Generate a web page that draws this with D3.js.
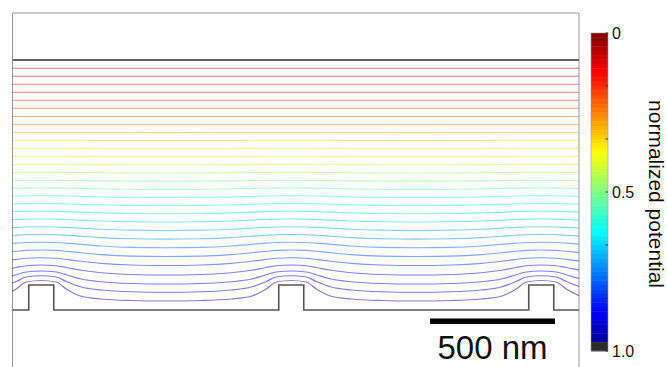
<!DOCTYPE html>
<html>
<head>
<meta charset="utf-8">
<script src="https://cdn.jsdelivr.net/npm/d3@7"></script>
<style>
  html, body { margin: 0; padding: 0; background: #fff; }
  svg { display: block; font-family: "Liberation Sans", Arial, Helvetica, sans-serif; }
</style>
</head>
<body>
<div class="chart"></div>
<script>
const width = 667;
const height = 367;

// normalized potential of each contour (0 = flat top electrode, 1 = structured electrode)
const levels = [0.033, 0.067, 0.100, 0.133, 0.167, 0.200, 0.233, 0.267, 0.300, 0.333,
                0.367, 0.400, 0.433, 0.467, 0.500, 0.533, 0.567, 0.600, 0.633, 0.667,
                0.700, 0.733, 0.767, 0.800, 0.833, 0.867, 0.900, 0.933, 0.967];

// distance from a bump centre (nm) where each contour is sampled
const offsetsNm = [0, 60, 100, 160, 240, 360, 500];

// contour height above the base (nm) at those offsets, one row per level
const contourHeights = [
  [967, 967, 967, 967, 967, 967, 967],
  [935, 935, 935, 935, 935, 935, 935],
  [903, 903, 903, 903, 903, 903, 903],
  [871, 871, 871, 871, 871, 871, 871],
  [839, 839, 839, 839, 839, 839, 839],
  [807, 807, 807, 807, 807, 807, 807],
  [774, 774, 774, 774, 774, 774, 774],
  [742, 742, 742, 742, 742, 742, 742],
  [710, 710, 710, 710, 710, 710, 709.5],
  [679, 679, 679, 679, 678, 678, 678],
  [647, 647, 647, 646.5, 646, 646, 646],
  [615, 615, 615, 614.5, 614, 613.5, 613.5],
  [583, 583, 583, 582, 581.5, 581, 581],
  [551, 551, 550.5, 550, 549, 548.5, 548],
  [519, 519, 518.5, 517.5, 516.5, 515.5, 515],
  [488, 487.5, 487, 486, 484.5, 483, 482.5],
  [457, 456.5, 456, 454.5, 452.5, 450.5, 450],
  [426, 425.5, 424.5, 423, 420.5, 418.5, 418],
  [395, 394.5, 393.5, 391.5, 388.5, 386, 385],
  [364, 363.5, 362, 359.5, 356, 353, 352],
  [333, 332, 330.5, 327.5, 323, 319.5, 318],
  [302, 301, 299, 295, 289.5, 285, 283.5],
  [271, 270, 267.5, 262.5, 256, 250.5, 249],
  [240, 238.5, 235, 229, 221.5, 215.5, 214],
  [209, 207, 202.5, 195, 186.5, 180, 178],
  [180, 177, 170, 159, 149, 142, 140],
  [156, 152, 141, 124, 113, 106, 104],
  [137, 132, 114, 92, 80, 73, 71],
  [118, 112, 84, 55, 44, 38, 36]
];

// structured electrode
const bumpCentersNm = [115, 1115, 2115];
const bumpWidthNm = 100;
const bumpHeightNm = 100;
const gapNm = 1000;          // distance to the flat electrode
const scaleBarNm = 500;

// colour bar
const cbTicks = [0, 0.1667, 0.3333, 0.5, 0.6667, 0.8333, 1];
const cbTickLabels = ["0", "", "", "0.5", "", "", "1.0"];
const cbTitle = "normalized potential";

// ---- layout ----
const plot = { left: 12.5, right: 579, top: 13 };
const xDomain = [0, 2266];
const x = d3.scaleLinear().domain(xDomain).range([plot.left, plot.right]);
const y = d3.scaleLinear().domain([0, gapNm]).range([310, 60]);

// MATLAB-style jet, reversed so that 0 is dark red
const jet = d3.scaleLinear()
  .domain([0, 0.125, 0.375, 0.625, 0.875, 1])
  .range(["#00007f", "#0000ff", "#00ffff", "#ffff00", "#ff0000", "#7f0000"])
  .interpolate(d3.interpolateRgb);
const potColor = v => jet(1 - v);

const svg = d3.select("div.chart")
  .append("svg")
  .attr("width", width)
  .attr("height", height)
  .attr("viewBox", [0, 0, width, height]);

svg.append("defs").append("clipPath")
  .attr("id", "clip")
  .append("rect")
  .attr("x", plot.left)
  .attr("y", plot.top)
  .attr("width", plot.right - plot.left)
  .attr("height", height);

// frame (runs off the bottom of the picture)
svg.append("path")
  .attr("fill", "none")
  .attr("stroke", "#999")
  .attr("stroke-width", 1)
  .attr("d", `M${plot.left},${height + 5}V${plot.top}H${plot.right}V${height + 5}`);

const g = svg.append("g").attr("clip-path", "url(#clip)");

// contours: each row is mirrored around every bump centre
const line = d3.line()
  .x(d => x(d[0]))
  .y(d => y(d[1]))
  .curve(d3.curveMonotoneX);

function contourPoints(row) {
  const pts = [];
  bumpCentersNm.forEach((c, ci) => {
    for (let i = offsetsNm.length - 1; i > 0; i--) {
      if (ci > 0 && i === offsetsNm.length - 1) continue; // shared valley point
      pts.push([c - offsetsNm[i], row[i]]);
    }
    for (let i = 0; i < offsetsNm.length; i++) pts.push([c + offsetsNm[i], row[i]]);
  });
  return pts;
}

g.append("g")
  .attr("class", "contours")
  .selectAll("path")
  .data(levels)
  .join("path")
  .attr("fill", "none")
  .attr("stroke", d => potColor(d))
  .attr("stroke-opacity", 0.5)
  .attr("stroke-width", 1.2)
  .attr("d", (d, i) => line(contourPoints(contourHeights[i])));

// flat electrode
g.append("line")
  .attr("x1", x(xDomain[0]))
  .attr("x2", x(xDomain[1]))
  .attr("y1", y(gapNm))
  .attr("y2", y(gapNm))
  .attr("stroke", "#333")
  .attr("stroke-width", 1.6);

// structured electrode outline
const outline = [[xDomain[0], 0]];
bumpCentersNm.forEach(c => {
  const a = c - bumpWidthNm / 2, b = c + bumpWidthNm / 2;
  outline.push([a, 0], [a, bumpHeightNm], [b, bumpHeightNm], [b, 0]);
});
outline.push([xDomain[1], 0]);
g.append("path")
  .attr("fill", "none")
  .attr("stroke", "#555")
  .attr("stroke-width", 1.6)
  .attr("d", d3.line().x(d => x(d[0])).y(d => y(d[1])).curve(d3.curveLinear)(outline));

// scale bar
const sbRight = bumpCentersNm[2] + 55;
svg.append("rect")
  .attr("x", x(sbRight - scaleBarNm))
  .attr("y", 318.5)
  .attr("width", x(sbRight) - x(sbRight - scaleBarNm))
  .attr("height", 5.5)
  .attr("fill", "#000");
svg.append("text")
  .attr("x", (x(sbRight - scaleBarNm) + x(sbRight)) / 2)
  .attr("y", 359)
  .attr("text-anchor", "middle")
  .attr("font-size", 33)
  .attr("fill", "#111")
  .text(`${scaleBarNm} nm`);

// colour bar
const cb = { x: 591, w: 17 };
const cbY = d3.scaleLinear().domain([0, 1]).range([33, 351]);
const nBins = 72;
const bins = d3.range(nBins).map(i => [i / nBins, (i + 1) / nBins]);
svg.append("g")
  .selectAll("rect")
  .data(bins)
  .join("rect")
  .attr("x", cb.x)
  .attr("y", d => cbY(d[0]))
  .attr("width", cb.w)
  .attr("height", d => cbY(d[1]) - cbY(d[0]) + 0.4)
  .attr("fill", d => (d[0] + d[1]) / 2 > 0.972 ? "#2b2b2b" : potColor((d[0] + d[1]) / 2));

svg.append("rect")
  .attr("x", cb.x)
  .attr("y", cbY(0))
  .attr("width", cb.w)
  .attr("height", cbY(1) - cbY(0))
  .attr("fill", "none")
  .attr("stroke", "#999")
  .attr("stroke-width", 0.6);

const cbAxis = svg.append("g").attr("font-size", 16).attr("fill", "#111");
cbAxis.selectAll("line")
  .data(cbTicks)
  .join("line")
  .attr("x1", cb.x + cb.w - 2.5)
  .attr("x2", cb.x + cb.w)
  .attr("y1", d => cbY(d))
  .attr("y2", d => cbY(d))
  .attr("stroke", "#333")
  .attr("stroke-width", 1);
cbAxis.selectAll("text")
  .data(cbTicks)
  .join("text")
  .attr("x", cb.x + cb.w + 4)
  .attr("y", d => cbY(d) + 6)
  .text((d, i) => cbTickLabels[i]);

svg.append("text")
  .attr("transform", `translate(649,${(cbY(0) + cbY(1)) / 2 + 2}) rotate(90)`)
  .attr("text-anchor", "middle")
  .attr("font-size", 21)
  .attr("fill", "#111")
  .text(cbTitle);
</script>
</body>
</html>
